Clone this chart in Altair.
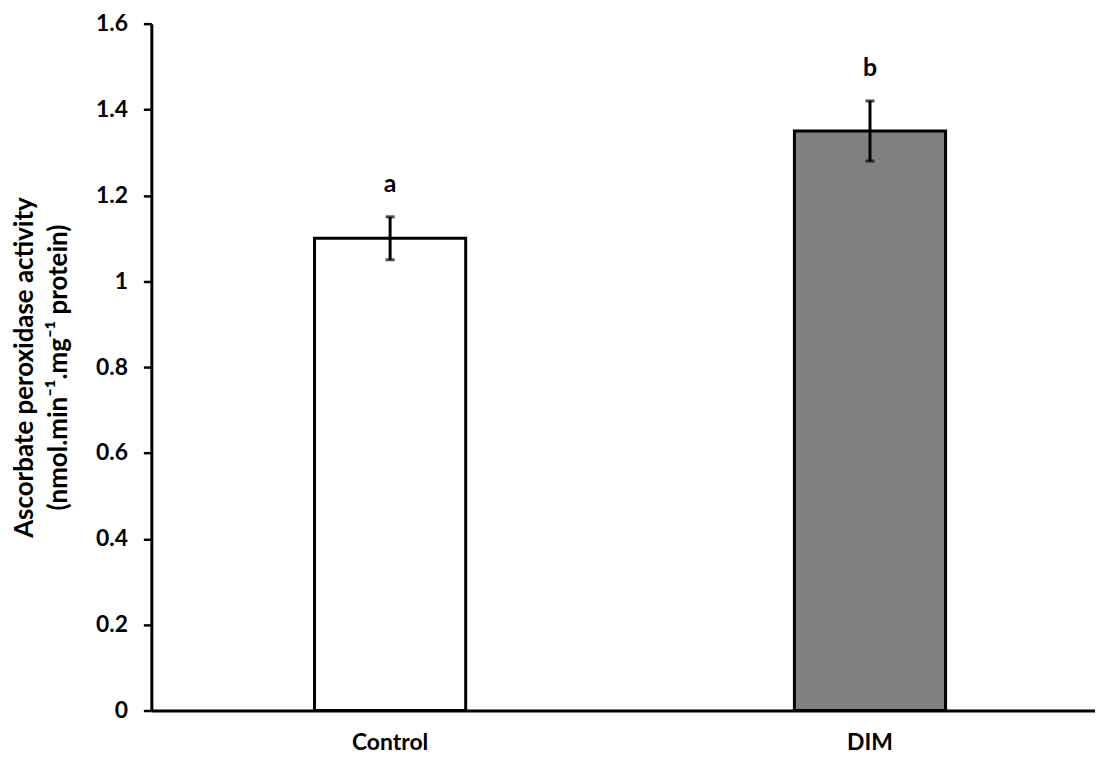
import altair as alt
import pandas as pd

groups = ["Control", "DIM"]
means = [1.10, 1.35]
errors = [0.05, 0.07]
letters = ["a", "b"]
fills = ["#ffffff", "#808080"]
letter_pos = [1.227, 1.496]

df = pd.DataFrame({
    "group": groups,
    "mean": means,
    "err": errors,
    "letter": letters,
    "fill": fills,
    "lpos": letter_pos,
})
df["lo"] = df["mean"] - df["err"]
df["hi"] = df["mean"] + df["err"]

FONT = "Lato"

x = alt.X(
    "group:N",
    sort=groups,
    title=None,
    scale=alt.Scale(paddingInner=0.685, paddingOuter=0.3257, align=0.522),
    axis=alt.Axis(
        labelAngle=0, ticks=False, labelFontSize=23, labelFont=FONT,
        labelFontWeight="bold", labelColor="black", labelPadding=21,
        domainColor="black", domainWidth=3,
    ),
)
y_axis = alt.Axis(
    values=[0, 0.2, 0.4, 0.6, 0.8, 1.0, 1.2, 1.4, 1.6],
    labelExpr="datum.value == 0 ? '0' : datum.value == 1 ? '1' : format(datum.value, '.1f')",
    grid=False, tickSize=8, tickWidth=2.5, tickColor="black",
    domainColor="black", domainWidth=3,
    labelFontSize=23, labelFont=FONT, labelFontWeight="bold", labelColor="black",
    labelPadding=16,
    title=["Ascorbate peroxidase activity", "(nmol.min⁻¹.mg⁻¹ protein)"],
    titleFontSize=26, titleFont=FONT, titleFontWeight="bold", titleColor="black",
    titlePadding=24, titleLineHeight=34,
)
y = alt.Y("mean:Q", scale=alt.Scale(domain=[0, 1.6], nice=False), axis=y_axis)

base = alt.Chart(df)

bars = base.mark_bar(stroke="black", strokeWidth=3).encode(
    x=x, y=y, fill=alt.Fill("fill:N", scale=None)
)
rules = base.mark_rule(color="black", strokeWidth=3).encode(
    x=alt.X("group:N", sort=groups), y="lo:Q", y2="hi:Q"
)
caps_hi = base.mark_tick(color="black", thickness=3, size=9, orient="horizontal").encode(
    x=alt.X("group:N", sort=groups), y="hi:Q"
)
caps_lo = base.mark_tick(color="black", thickness=3, size=9, orient="horizontal").encode(
    x=alt.X("group:N", sort=groups), y="lo:Q"
)
labels = base.mark_text(font=FONT, fontSize=25, fontWeight="bold", color="black",
                        baseline="middle").encode(
    x=alt.X("group:N", sort=groups), y="lpos:Q", text="letter:N"
)

chart = alt.layer(bars, rules, caps_hi, caps_lo, labels).properties(
    width=948, height=690, background="white",
    padding={"top": 3, "left": 3, "right": 0, "bottom": 5},
).configure_view(stroke=None)

chart.save("out.html", embed_options={"renderer": "svg", "actions": False})
